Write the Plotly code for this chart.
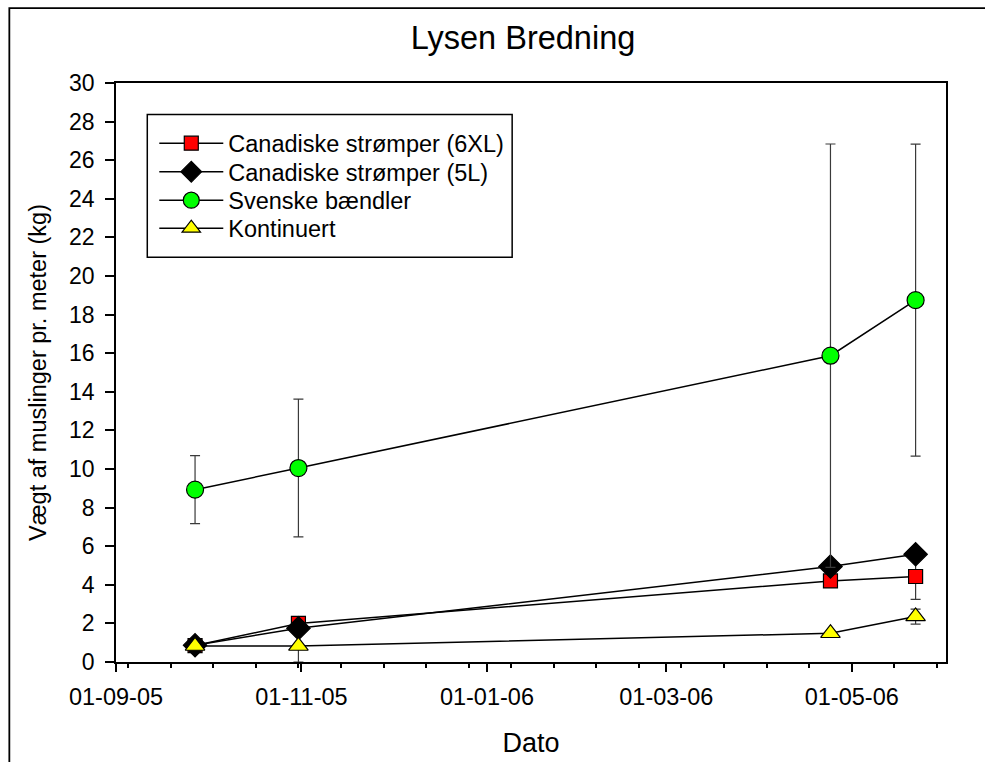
import plotly.graph_objects as go

dates = ["2005-09-27", "2005-10-31", "2006-04-24", "2006-05-22"]

names = ["Canadiske strømper (6XL)", "Canadiske strømper (5L)", "Svenske bændler", "Kontinuert"]
red_vals = [0.85, 2.0, 4.2, 4.43]
red_err = [0.0, 0.0, 0.0, 1.18]
black_vals = [0.87, 1.75, 4.95, 5.58]
black_err = [0.0, 0.0, 0.0, 0.0]
green_vals = [8.93, 10.05, 15.87, 18.75]
green_err = [1.76, 3.57, 10.97, 8.08]
yellow_vals = [0.83, 0.83, 1.49, 2.36]
yellow_err_plus = [0.0, 0.0, 0.0, 0.38]
yellow_err_minus = [0.0, 0.83, 0.0, 0.4]

tick_vals = ["2005-09-01", "2005-11-01", "2006-01-01", "2006-03-01", "2006-05-01"]
tick_text = ["01-09-05", "01-11-05", "01-01-06", "01-03-06", "01-05-06"]

FONT = "Liberation Sans, Arial, sans-serif"
ERRC = "#3a3a3a"

# plot-area geometry (pixels)
L, R, T, B = 115.7, 946.0, 82.5, 662.0
W, H = R - L, B - T

def px(x):
    return (x - L) / W

def py(y):
    return (B - y) / H

legend_ids = ["legend", "legend2", "legend3", "legend4"]
legend_rows = [143, 171.5, 200, 228]

fig = go.Figure()

def add(i, vals, color, symbol, size, eplus, eminus=None):
    err = dict(type="data", array=eplus, color=ERRC, thickness=1.2, width=5, visible=True)
    if eminus is not None:
        err["symmetric"] = False
        err["arrayminus"] = eminus
    fig.add_trace(go.Scatter(
        x=dates, y=vals, name=names[i], mode="lines+markers",
        line=dict(color="black", width=1.5),
        marker=dict(symbol=symbol, size=size, color=color, line=dict(color="black", width=1.2)),
        error_y=err, legend=legend_ids[i],
    ))

add(0, red_vals, "#ff0000", "square", 14, red_err)
add(1, black_vals, "#000000", "diamond", 18, black_err)
add(2, green_vals, "#00ff00", "circle", 17, green_err)
add(3, yellow_vals, "#ffff00", "triangle-up", 17, yellow_err_plus, yellow_err_minus)

shapes = [
    # legend box
    dict(type="rect", xref="paper", yref="paper", x0=px(147), x1=px(512), y0=py(257), y1=py(114),
         line=dict(color="black", width=1.5), fillcolor="rgba(0,0,0,0)"),
    # outer frame (top and left edges)
    dict(type="path", xref="paper", yref="paper",
         path=f"M {px(9)} {py(775)} L {px(9)} {py(7.5)} L {px(995)} {py(7.5)}",
         line=dict(color="black", width=1.8)),
]

layout_legends = {}
for lid, row in zip(legend_ids, legend_rows):
    layout_legends[lid] = dict(
        x=px(154), y=py(row), xanchor="left", yanchor="middle",
        bgcolor="rgba(0,0,0,0)", borderwidth=0,
        font=dict(family=FONT, size=23.5, color="black"),
        itemsizing="trace", itemwidth=64,
    )

fig.update_layout(
    width=985, height=762,
    margin=dict(l=L, r=985 - R, t=T, b=762 - B, autoexpand=False),
    paper_bgcolor="white", plot_bgcolor="white",
    font=dict(family=FONT, size=23, color="black"),
    title=dict(text="Lysen Bredning", x=523 / 985, xref="container", xanchor="center",
               y=1 - 38 / 762, yref="container", yanchor="middle",
               font=dict(family=FONT, size=32.5, color="black")),
    showlegend=True,
    shapes=shapes,
    **layout_legends,
)

fig.update_xaxes(
    type="date", range=["2005-09-01", "2006-06-01"],
    tickmode="array", tickvals=tick_vals, ticktext=tick_text,
    ticks="outside", ticklen=8, tickwidth=1.5, tickcolor="black",
    minor=dict(tick0="2005-09-05", dtick=14 * 86400000, ticks="outside", ticklen=4,
               tickwidth=1.5, tickcolor="black", showgrid=False),
    showline=True, linecolor="black", linewidth=1.8, mirror=True,
    showgrid=False, zeroline=False,
    tickfont=dict(family=FONT, size=23.5, color="black"),
    ticklabelstandoff=5,
    title=dict(text="Dato", font=dict(family=FONT, size=27, color="black"), standoff=24),
)
fig.update_yaxes(
    range=[0, 30], dtick=2, tick0=0,
    ticks="outside", ticklen=9, tickwidth=1.5, tickcolor="black",
    showline=True, linecolor="black", linewidth=1.8, mirror=True,
    showgrid=False, zeroline=False,
    tickfont=dict(family=FONT, size=23, color="black"),
    ticklabelstandoff=6,
    title=dict(text="Vægt af muslinger pr. meter (kg)", font=dict(family=FONT, size=23.5, color="black"), standoff=16),
)

fig.write_html("out.html")
